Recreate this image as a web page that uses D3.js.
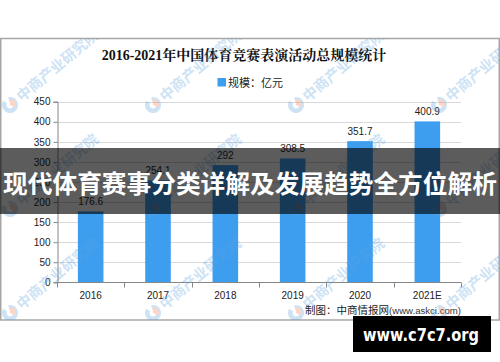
<!DOCTYPE html>
<html>
<head>
<meta charset="utf-8">
<script src="https://cdn.jsdelivr.net/npm/d3@7"></script>
<style>
  body { margin: 0; background: #fff; }
  svg { display: block; }
</style>
</head>
<body>
<svg width="500" height="362"></svg>
<script>
  const years = ['2016', '2017', '2018', '2019', '2020', '2021E'];
  const values = [176.6, 254.1, 292, 308.5, 351.7, 400.9];
  const valueLabels = ['176.6', '254.1', '292', '308.5', '351.7', '400.9'];
  const yTicks = [0, 50, 100, 150, 200, 250, 300, 350, 400, 450];

  const title = '2016-2021年中国体育竞赛表演活动总规模统计';
  const legendLabel = '规模：亿元';
  const banner = '现代体育赛事分类详解及发展趋势全方位解析';
  const watermark = '中商产业研究院';

  const svg = d3.select('svg');
  const barColor = '#3d9ef0';

  // chart frame
  svg.append('rect')
    .attr('x', 0.75).attr('y', 38.5)
    .attr('width', 498.5).attr('height', 281.5)
    .attr('fill', '#fff')
    .attr('stroke', '#a6a6a6')
    .attr('stroke-width', 1.5);

  const xScale = d3.scaleBand()
    .domain(years)
    .range([57, 461])
    .paddingInner(0.62)
    .paddingOuter(0.31);

  const yScale = d3.scaleLinear()
    .domain([0, 450])
    .range([282.3, 101.7]);

  // grid
  svg.append('g').selectAll('line').data(yTicks.slice(1))
    .enter().append('line')
      .attr('x1', 57).attr('x2', 461)
      .attr('y1', d => Math.round(yScale(d)) + 0.5)
      .attr('y2', d => Math.round(yScale(d)) + 0.5)
      .attr('stroke', '#d9d9d9');

  // bars
  svg.append('g').selectAll('rect').data(values)
    .enter().append('rect')
      .attr('x', (d, i) => xScale(years[i]))
      .attr('y', d => yScale(d))
      .attr('width', xScale.bandwidth())
      .attr('height', d => yScale(0) - yScale(d))
      .attr('fill', barColor);

  svg.append('g').selectAll('text').data(values)
    .enter().append('text')
      .attr('x', (d, i) => xScale(years[i]) + xScale.bandwidth() / 2)
      .attr('y', d => yScale(d) - 6)
      .attr('text-anchor', 'middle')
      .attr('font-family', 'Liberation Sans, Arial, sans-serif')
      .attr('font-size', 10)
      .attr('fill', '#222')
      .text((d, i) => valueLabels[i]);

  // y axis
  const yAxisG = svg.append('g')
    .attr('transform', 'translate(57.5,0)')
    .call(d3.axisLeft(yScale).tickValues(yTicks).tickSize(4).tickPadding(3));
  yAxisG.selectAll('path, line').attr('stroke', '#868686');
  yAxisG.selectAll('text')
    .attr('font-family', 'Liberation Sans, Arial, sans-serif')
    .attr('font-size', 10)
    .attr('fill', '#222');

  // x axis (ticks at band boundaries)
  const xAxisG = svg.append('g')
    .attr('transform', `translate(0,${Math.round(yScale(0)) + 0.5})`);
  xAxisG.append('line')
    .attr('x1', 57).attr('x2', 461)
    .attr('stroke', '#868686');
  const step = xScale.step();
  xAxisG.selectAll('.tk').data(d3.range(years.length + 1))
    .enter().append('line')
      .attr('class', 'tk')
      .attr('x1', i => Math.round(57 + i * step) + 0.5)
      .attr('x2', i => Math.round(57 + i * step) + 0.5)
      .attr('y1', 0).attr('y2', 5)
      .attr('stroke', '#868686');
  xAxisG.selectAll('text').data(years)
    .enter().append('text')
      .attr('x', d => xScale(d) + xScale.bandwidth() / 2)
      .attr('y', 16.5)
      .attr('text-anchor', 'middle')
      .attr('font-family', 'Liberation Sans, Arial, sans-serif')
      .attr('font-size', 10)
      .attr('fill', '#222')
      .text(d => d);

  // title
  svg.append('text')
    .attr('x', 244).attr('y', 60)
    .attr('text-anchor', 'middle')
    .attr('font-family', 'Liberation Serif, Noto Serif CJK SC, Noto Sans CJK SC, serif')
    .attr('font-size', 14)
    .attr('font-weight', 'bold')
    .attr('fill', '#111')
    .text(title);

  // legend
  svg.append('rect')
    .attr('x', 217.5).attr('y', 78)
    .attr('width', 8.5).attr('height', 8.5)
    .attr('fill', barColor);
  svg.append('text')
    .attr('x', 228).attr('y', 87)
    .attr('font-family', 'Noto Sans CJK SC, sans-serif')
    .attr('font-size', 11)
    .attr('fill', '#222')
    .text(legendLabel);

  // source
  const src = svg.append('text')
    .attr('x', 461).attr('y', 314)
    .attr('text-anchor', 'end')
    .attr('fill', '#222');
  src.append('tspan')
    .attr('font-family', 'Noto Sans CJK SC, sans-serif')
    .attr('font-size', 10.5)
    .text('制图：中商情报网');
  src.append('tspan')
    .attr('font-family', 'Liberation Sans, Arial, sans-serif')
    .attr('font-size', 9.6)
    .attr('fill', '#333')
    .text('(www.askci.com)');

  // watermarks
  svg.append('clipPath').attr('id', 'frame')
    .append('rect').attr('x', 1).attr('y', 39).attr('width', 498).attr('height', 281);
  const wmPos = [];
  [105, 209, 313].forEach(y => [10, 153, 296, 439].forEach(x => wmPos.push([x, y])));
  const wm = svg.append('g').attr('clip-path', 'url(#frame)')
    .selectAll('g').data(wmPos)
    .enter().append('g')
      .attr('transform', d => `translate(${d[0]},${d[1]}) rotate(-40)`)
      .attr('opacity', 0.3);
  wm.append('path')
    .attr('d', d3.arc().innerRadius(3.5).outerRadius(8).startAngle(Math.PI * 0.15).endAngle(Math.PI * 1.9))
    .attr('fill', '#5ea3e0');
  wm.append('path')
    .attr('d', d3.arc().innerRadius(0).outerRadius(6).startAngle(Math.PI * 0.2).endAngle(Math.PI * 0.85))
    .attr('fill', '#ee7a4e');
  wm.append('text')
    .attr('x', 11).attr('y', 5.5)
    .attr('font-family', 'Noto Sans CJK SC, sans-serif')
    .attr('font-size', 14.5)
    .attr('font-weight', 'bold')
    .attr('fill', '#5ea3e0')
    .text(watermark);

  // banner overlay
  svg.append('rect')
    .attr('x', 0).attr('y', 148)
    .attr('width', 500).attr('height', 66)
    .attr('fill', '#000')
    .attr('opacity', 0.64);
  svg.append('text')
    .attr('x', 250).attr('y', 184)
    .attr('dy', '0.36em')
    .attr('text-anchor', 'middle')
    .attr('font-family', 'Noto Sans CJK SC, sans-serif')
    .attr('font-size', 24.7)
    .attr('font-weight', 'bold')
    .attr('fill', '#fff')
    .text(banner);

  // site badge
  svg.append('rect')
    .attr('x', 353).attr('y', 316)
    .attr('width', 138).attr('height', 36)
    .attr('fill', '#000');
  svg.append('text')
    .attr('x', 363).attr('y', 341)
    .attr('textLength', 116)
    .attr('lengthAdjust', 'spacingAndGlyphs')
    .attr('font-family', 'DejaVu Sans, sans-serif')
    .attr('font-size', 17)
    .attr('font-weight', 'bold')
    .attr('fill', '#fff')
    .text('www.c7c7.org');
</script>
</body>
</html>
